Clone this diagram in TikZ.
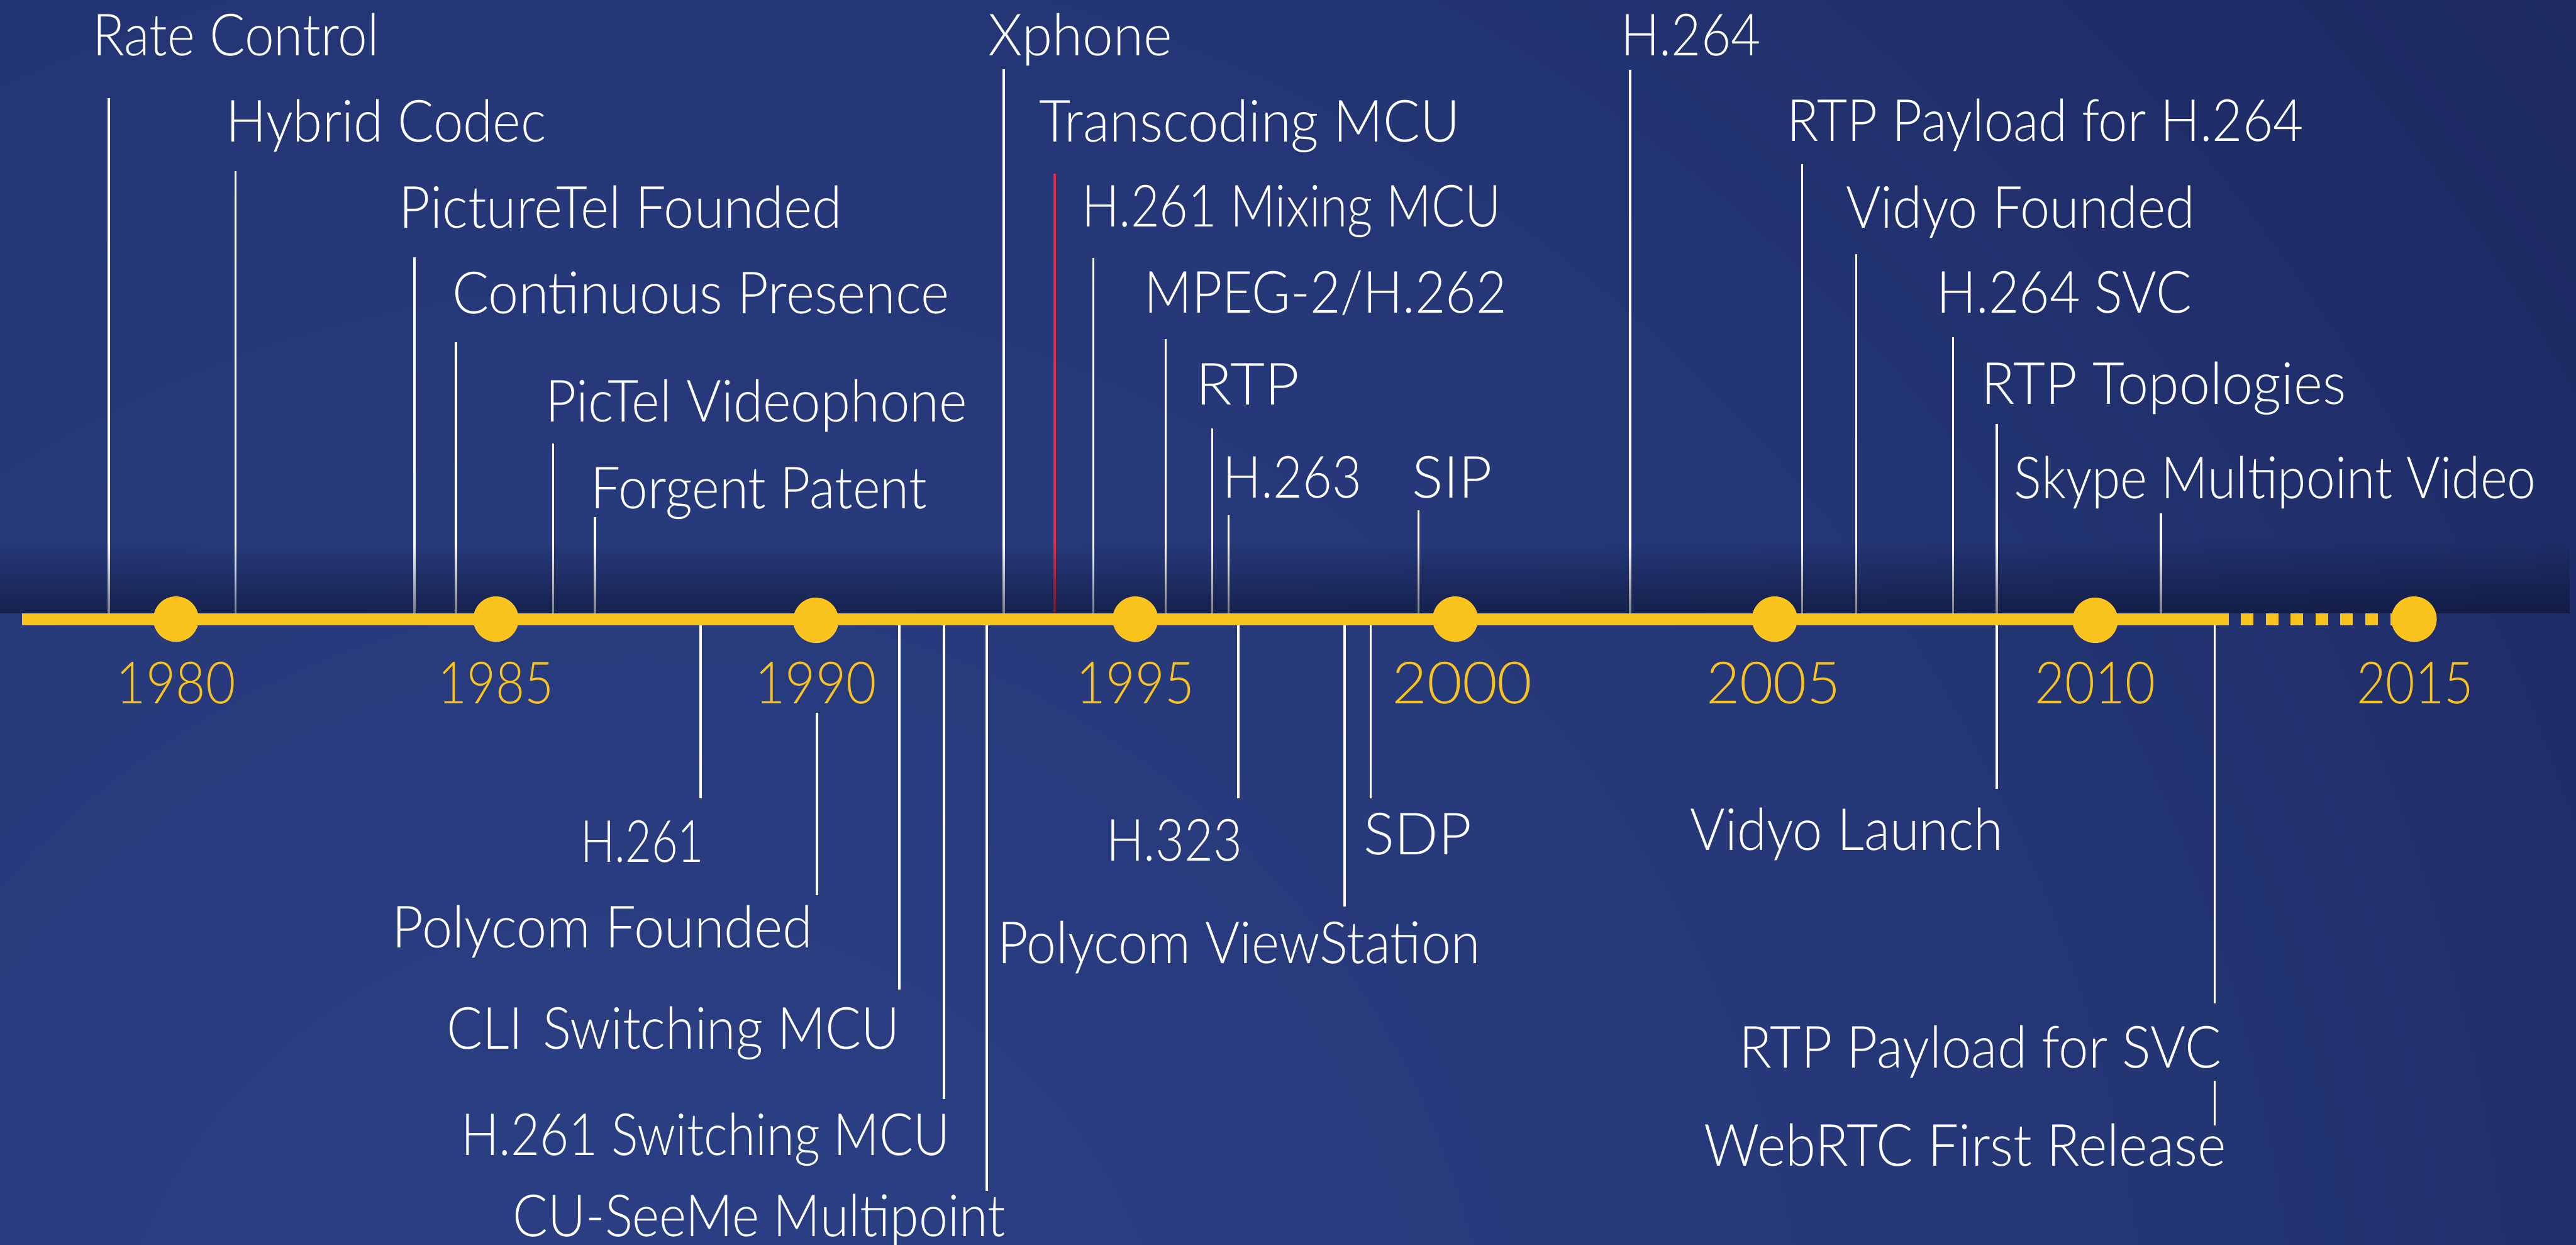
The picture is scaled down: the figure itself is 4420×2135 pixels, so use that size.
\documentclass[tikz,border=0pt]{standalone}
\usepackage{fontspec}
\setmainfont{Lato Light}
\usepackage{graphicx}
\usetikzlibrary{fadings}
\definecolor{bgA}{RGB}{44,64,134}
\definecolor{bgB}{RGB}{37,55,119}
\definecolor{bgC}{RGB}{23,33,86}
\definecolor{bgD}{RGB}{15,23,68}
\definecolor{bgE}{RGB}{12,20,60}
\definecolor{shadowc}{RGB}{8,14,40}
\definecolor{tlyellow}{RGB}{251,195,30}
\definecolor{tlred}{RGB}{232,40,60}
\pgfdeclareradialshading{bgshade}{\pgfpoint{0bp}{0bp}}{color(0bp)=(bgA); color(14bp)=(bgB); color(30bp)=(bgC); color(42bp)=(bgD); color(50bp)=(bgE)}
\tikzfading[name=fadeupward, top color=transparent!100, bottom color=transparent!45]
\newsavebox\fitbox
\newcommand\fitto[2]{\sbox\fitbox{#2}\pgfmathsetmacro\fitfac{(#1+8)/\the\wd\fitbox}\scalebox{\fitfac}[1]{\usebox\fitbox}}
\tikzset{
  x=1pt, y=-1pt,
  tick/.style={draw=white, line width=4pt},
  redtick/.style={draw=tlred, line width=4pt},
  lab/.style={anchor=base west, inner sep=0pt, text=white, font=\fontsize{100}{110}\selectfont},
  yearlab/.style={anchor=base, inner sep=0pt, text=tlyellow, font=\fontsize{100}{110}\selectfont},
  axisbar/.style={draw=tlyellow, line width=21pt},
  yeardot/.style={circle, fill=tlyellow, minimum size=78pt, inner sep=0pt},
}
\begin{document}
\begin{tikzpicture}
\useasboundingbox (0,0) rectangle (4420,2135);
% background
\begin{scope}
\clip (0,0) rectangle (4420,2135);
\fill[bgE] (0,0) rectangle (4420,2135);
\shade[shading=bgshade] (1100,2500) circle (4300);
\end{scope}

% upper ticks
\foreach \n/\x/\t in {rc/187/168, hc/404/294, ptf/711/441, cp/782/587, pv/949/761, fp/1021/887,
  xp/1722/119, hm/1876/442, mp/2000/582, rtp/2080/735, hsix/2108/884, sip/2434/875,
  hfour/2797/120, rph/3092/282, vf/3185/436, svc/3351/578, rtop/3426/727, sk/3708/881}{
  \coordinate (\n T) at (\x,\t);
  \coordinate (\n B) at (\x,1062);
  \draw[tick] (\n T) -- (\n B);
}
\coordinate (tmT) at (1810,298);
\coordinate (tmB) at (1810,1062);
\draw[redtick] (tmT) -- (tmB);

% lower ticks
\foreach \n/\x/\t/\b in {hone/1202/1062/1369, pf/1402/1223/1536, cli/1543/1062/1697, hsw/1620/1062/1885,
  cu/1693/1062/2043, hthree/2125/1062/1369, pvs/2307/1062/1555, sdp/2352/1062/1369,
  vl/3426/1062/1353, rps/3800/1062/1721, web/3800/1854/1931}{
  \coordinate (\n T) at (\x,\t);
  \coordinate (\n B) at (\x,\b);
  \draw[tick] (\n T) -- (\n B);
}

% shadow above the axis
\fill[shadowc, path fading=fadeupward] (0,930) rectangle (4420,1052);

% axis
\coordinate (axL) at (38,1062.5);
\coordinate (axR) at (3824,1062.5);
\draw[axisbar] (axL) -- (axR);
\coordinate (dsL) at (3845,1062.5);
\coordinate (dsR) at (4122,1062.5);
\draw[axisbar, dash pattern=on 21.3pt off 21.4pt] (dsL) -- (dsR);

% year dots and labels
\node[yeardot] (d1980) at (302,1062) {};
\node[yeardot] (d1985) at (851,1062) {};
\node[yeardot] (d1990) at (1400,1064) {};
\node[yeardot] (d1995) at (1948,1062) {};
\node[yeardot] (d2000) at (2497,1062) {};
\node[yeardot] (d2005) at (3045,1062) {};
\node[yeardot] (d2010) at (3595,1064) {};
\node[yeardot] (d2015) at (4142,1062) {};
\node[yearlab] (y1980) at (302,1207) {\fitto{197}{1980}};
\node[yearlab] (y1985) at (851,1207) {\fitto{191}{1985}};
\node[yearlab] (y1990) at (1400,1207) {\fitto{201}{1990}};
\node[yearlab] (y1995) at (1948,1207) {\fitto{194}{1995}};
\node[yearlab] (y2000) at (2509,1207) {\fitto{233}{2000}};
\node[yearlab] (y2005) at (3043,1207) {\fitto{222}{2005}};
\node[yearlab] (y2010) at (3595,1207) {\fitto{199}{2010}};
\node[yearlab] (y2015) at (4144,1207) {\fitto{193}{2015}};

% upper labels
\node[lab] (lrc) at (159,96) {\fitto{483}{Rate Control}};
\node[lab] (lhc) at (388,243) {\fitto{541}{Hybrid Codec}};
\node[lab] (lptf) at (685,391) {\fitto{751}{PictureTel Founded}};
\node[lab] (lcp) at (776,538) {\fitto{844}{Continuous Presence}};
\node[lab] (lpv) at (936,723) {\fitto{715}{PicTel Videophone}};
\node[lab] (lfp) at (1014,872) {\fitto{568}{Forgent Patent}};
\node[lab] (lxp) at (1696,96) {\fitto{307}{Xphone}};
\node[lab] (ltm) at (1783,243) {\fitto{714}{Transcoding MCU}};
\node[lab] (lhm) at (1856,389) {\fitto{711}{H.261 Mixing MCU}};
\node[lab] (lmp) at (1963,537) {\fitto{614}{MPEG-2/H.262}};
\node[lab] (lrtp) at (2052,694) {\fitto{170}{RTP}};
\node[lab] (lhsix) at (2098,854) {\fitto{230}{H.263}};
\node[lab] (lsip) at (2423,854) {\fitto{129}{SIP}};
\node[lab] (lhfour) at (2781,95) {\fitto{232}{H.264}};
\node[lab] (lrph) at (3066,242) {\fitto{878}{RTP Payload for H.264}};
\node[lab] (lvf) at (3167,391) {\fitto{591}{Vidyo Founded}};
\node[lab] (lsvc) at (3323,537) {\fitto{429}{H.264 SVC}};
\node[lab] (lrtop) at (3400,693) {\fitto{617}{RTP Topologies}};
\node[lab] (lsk) at (3456,855) {\fitto{887}{Skype Multipoint Video}};

% lower labels
\node[lab] (lhone) at (996,1479) {\fitto{204}{H.261}};
\node[lab] (lpf) at (673,1626) {\fitto{713}{Polycom Founded}};
\node[lab] (lcli) at (766,1799) {\fitto{770}{CLI\hspace{0.1em} Switching MCU}};
\node[lab] (lhsw) at (791,1982) {\fitto{830}{H.261 Switching MCU}};
\node[lab] (lcu) at (880,2121) {\fitto{837}{CU-SeeMe Multipoint}};
\node[lab] (lhthree) at (1898,1477) {\fitto{225}{H.323}};
\node[lab] (lpvs) at (1712,1653) {\fitto{819}{Polycom ViewStation}};
\node[lab] (lsdp) at (2340,1466) {\fitto{177}{SDP}};
\node[lab] (lvl) at (2900,1458) {\fitto{529}{Vidyo Launch}};
\node[lab] (lrps) at (2984,1832) {\fitto{819}{RTP Payload for SVC}};
\node[lab] (lweb) at (2924,2000) {\fitto{887}{WebRTC First Release}};
\end{tikzpicture}
\end{document}
